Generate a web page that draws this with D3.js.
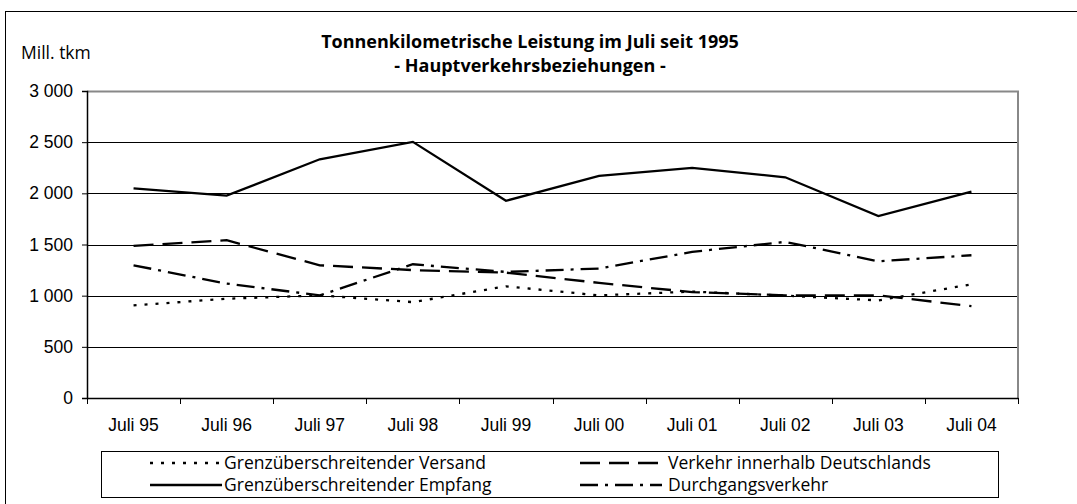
<!DOCTYPE html>
<html>
<head>
<meta charset="utf-8">
<script src="https://cdn.jsdelivr.net/npm/d3@7"></script>
<style>
  html, body { margin: 0; padding: 0; background: #fff; }
  svg { display: block; font-family: "Open Sans", "Liberation Sans", sans-serif; }
</style>
</head>
<body>
<svg id="chart" width="1077" height="504"></svg>
<script>
// data (Mill. tkm)
const categories = ["Juli 95", "Juli 96", "Juli 97", "Juli 98", "Juli 99", "Juli 00", "Juli 01", "Juli 02", "Juli 03", "Juli 04"];
const versand = [905, 970, 1003, 937, 1091, 1003, 1040, 1000, 954, 1111];
const empfang = [2049, 1977, 2333, 2503, 1927, 2170, 2248, 2157, 1777, 2016];
const innerhalb = [1486, 1542, 1297, 1250, 1225, 1125, 1035, 1003, 1003, 898];
const durchgang = [1297, 1118, 1003, 1307, 1232, 1265, 1428, 1526, 1336, 1395];
const yTicks = [0, 500, 1000, 1500, 2000, 2500, 3000];

const seriesNames = ["Grenzüberschreitender Versand", "Verkehr innerhalb Deutschlands", "Grenzüberschreitender Empfang", "Durchgangsverkehr"];

const series = [
  { name: seriesNames[0], values: versand, dash: "3,8" },
  { name: seriesNames[1], values: innerhalb, dash: "20,9" },
  { name: seriesNames[2], values: empfang, dash: null },
  { name: seriesNames[3], values: durchgang, dash: "18,7,3,7" }
];

const svg = d3.select("#chart");
const plot = { left: 87, right: 1018, top: 91, bottom: 398 };
const fontSize = 17.5;

// outer frame
svg.append("rect")
  .attr("x", 5.5).attr("y", 11.5)
  .attr("width", 1200).attr("height", 600)
  .attr("fill", "none").attr("stroke", "#000");

const x = d3.scaleBand().domain(categories).range([plot.left, plot.right]);
const y = d3.scaleLinear().domain([0, 3000]).range([plot.bottom, plot.top]);

const de = d3.formatLocale({ decimal: ",", thousands: " ", grouping: [3], currency: ["", ""] });
const fmt = de.format(",d");

// gridlines
svg.append("g")
  .selectAll("line")
  .data(yTicks.filter(d => d > 0 && d < 3000))
  .join("line")
  .attr("x1", plot.left).attr("x2", plot.right)
  .attr("y1", d => Math.round(y(d)) + 0.5).attr("y2", d => Math.round(y(d)) + 0.5)
  .attr("stroke", "#000").attr("stroke-width", 1);

// top + right border of plot area (grey)
svg.append("path")
  .attr("d", `M${plot.left},${y(3000) + 0.5}H${plot.right}V${plot.bottom}`)
  .attr("fill", "none").attr("stroke", "#888").attr("stroke-width", 2);

// y axis
const yAxis = svg.append("g")
  .attr("transform", `translate(${plot.left},0)`)
  .call(d3.axisLeft(y).tickValues(yTicks).tickFormat(fmt).tickSize(5).tickPadding(9));
yAxis.select(".domain").attr("stroke", "#000").attr("stroke-width", 1.5);
yAxis.selectAll("text").attr("font-size", fontSize).attr("fill", "#000");

// x axis: labels centered in bands, ticks at band boundaries
const xAxis = svg.append("g")
  .attr("transform", `translate(0,${plot.bottom})`)
  .call(d3.axisBottom(x).tickSize(0).tickPadding(21));
xAxis.select(".domain").attr("stroke", "#000").attr("stroke-width", 1.5);
xAxis.selectAll("text").attr("font-size", fontSize).attr("fill", "#000");

const bounds = categories.map(c => x(c)).concat([x(categories[categories.length - 1]) + x.bandwidth()]);
xAxis.append("g")
  .selectAll("line")
  .data(bounds)
  .join("line")
  .attr("x1", d => Math.round(d) + 0.5).attr("x2", d => Math.round(d) + 0.5)
  .attr("y1", 0).attr("y2", 6)
  .attr("stroke", "#000");

// lines
const line = d3.line()
  .x((d, i) => x(categories[i]) + x.bandwidth() / 2)
  .y(d => y(d));

svg.append("g")
  .selectAll("path")
  .data(series)
  .join("path")
  .attr("d", d => line(d.values))
  .attr("fill", "none")
  .attr("stroke", "#000")
  .attr("stroke-width", 2.3)
  .attr("stroke-dasharray", d => d.dash);

// title
const title = svg.append("text")
  .attr("text-anchor", "middle")
  .attr("font-weight", "bold")
  .attr("font-size", 18)
  .attr("fill", "#000");
title.append("tspan").attr("x", 530).attr("y", 48).text("Tonnenkilometrische Leistung im Juli seit 1995");
title.append("tspan").attr("x", 530).attr("y", 72).text("- Hauptverkehrsbeziehungen -");

svg.append("text")
  .attr("x", 21).attr("y", 59)
  .attr("font-size", fontSize)
  .text("Mill. tkm");

// legend
const legend = svg.append("g");
legend.append("rect")
  .attr("x", 101.5).attr("y", 451.5)
  .attr("width", 897).attr("height", 46)
  .attr("fill", "#fff").attr("stroke", "#000");

const legendPos = [
  { x: 150, y: 463 }, { x: 580, y: 463 },
  { x: 150, y: 485 }, { x: 580, y: 485 }
];
const legendItems = legend.selectAll("g.item")
  .data(series)
  .join("g")
  .attr("class", "item")
  .attr("transform", (d, i) => `translate(${legendPos[i].x},${legendPos[i].y})`);

legendItems.append("line")
  .attr("x1", 0).attr("x2", (d, i) => i % 2 ? 82 : 72)
  .attr("y1", 0).attr("y2", 0)
  .attr("stroke", "#000").attr("stroke-width", 2.3)
  .attr("stroke-dasharray", d => d.dash);

legendItems.append("text")
  .attr("x", (d, i) => i % 2 ? 88 : 74)
  .attr("y", 6)
  .attr("font-size", fontSize)
  .text(d => d.name);
</script>
</body>
</html>
